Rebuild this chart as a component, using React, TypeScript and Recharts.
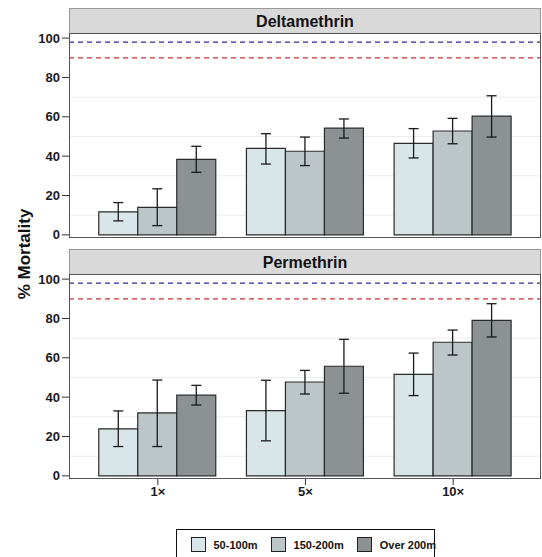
import { BarChart, Bar, XAxis, YAxis, ErrorBar, ReferenceLine, CartesianGrid } from 'recharts';

const categories = ['1×', '5×', '10×'];
const seriesNames = ['50-100m', '150-200m', 'Over 200m'];
const seriesColors = ['#d8e5e9', '#bcc5c8', '#8c9194'];

// Deltamethrin
const deltaNear = [11.7, 44.0, 46.5];
const deltaNearLow = [7.1, 36.0, 39.1];
const deltaNearHigh = [16.4, 51.4, 54.0];
const deltaMid = [14.0, 42.5, 52.8];
const deltaMidLow = [4.7, 35.2, 46.3];
const deltaMidHigh = [23.4, 49.7, 59.2];
const deltaFar = [38.4, 54.2, 60.3];
const deltaFarLow = [31.8, 49.2, 49.7];
const deltaFarHigh = [45.0, 58.9, 70.7];

// Permethrin
const permNear = [23.9, 33.2, 51.6];
const permNearLow = [14.9, 17.8, 40.8];
const permNearHigh = [33.0, 48.6, 62.4];
const permMid = [32.0, 47.7, 67.9];
const permMidLow = [14.9, 41.6, 61.4];
const permMidHigh = [48.7, 53.6, 74.1];
const permFar = [41.0, 55.7, 79.0];
const permFarLow = [36.0, 42.0, 70.6];
const permFarHigh = [46.0, 69.4, 87.5];

const yTicks = [0, 20, 40, 60, 80, 100];
const minorGrid = [10, 30, 50, 70];
const thresholdHigh = 98;
const thresholdLow = 90;

const FONT = '"Liberation Sans", Arial, sans-serif';

function buildRows(vals: number[][], lows: number[][], highs: number[][]) {
  return categories.map((c, i) => {
    const row: any = { cat: c };
    vals.forEach((s, k) => {
      row['v' + k] = s[i];
      row['e' + k] = [s[i] - lows[k][i], highs[k][i] - s[i]];
    });
    return row;
  });
}

const deltaRows = buildRows(
  [deltaNear, deltaMid, deltaFar],
  [deltaNearLow, deltaMidLow, deltaFarLow],
  [deltaNearHigh, deltaMidHigh, deltaFarHigh]
);
const permRows = buildRows(
  [permNear, permMid, permFar],
  [permNearLow, permMidLow, permFarLow],
  [permNearHigh, permMidHigh, permFarHigh]
);

const tickStyle = { fill: '#1a1a1a', fontSize: 13, fontWeight: 700, fontFamily: FONT };

function Panel({ title, rows, top, showX }: any) {
  const plotH = 205;
  const padTop = 10;
  return (
    <>
      <div
        style={{
          position: 'absolute',
          left: 69,
          top: top - 25,
          width: 472,
          height: 25,
          boxSizing: 'border-box',
          background: '#d9d9d9',
          border: '1px solid #999',
          borderBottom: 'none',
          textAlign: 'center',
          lineHeight: '25px',
          fontFamily: FONT,
          fontWeight: 700,
          fontSize: 16,
          color: '#111',
        }}
      >
        {title}
      </div>
      <div style={{ position: 'absolute', left: 0, top: top - padTop }}>
        <BarChart
          width={542}
          height={padTop + plotH + (showX ? 30 : 10)}
          data={rows}
          margin={{ top: padTop, right: 1, bottom: showX ? 0 : 10, left: 0 }}
          barCategoryGap="10%"
          barGap={0}
        >
          <CartesianGrid
            vertical={false}
            horizontalValues={minorGrid}
            stroke="#ececec"
            strokeWidth={1}
          />
          <XAxis
            dataKey="cat"
            hide={!showX}
            height={30}
            axisLine={false}
            tickLine={{ stroke: '#333' }}
            tickSize={6}
            tick={tickStyle}
            padding={{ left: 15, right: 14 }}
          />
          <YAxis
            width={69}
            type="number"
            domain={[-1.6, 102.6]}
            allowDataOverflow
            ticks={yTicks}
            interval={0}
            axisLine={false}
            tickLine={{ stroke: '#333' }}
            tickSize={7}
            tick={tickStyle}
          />
          <ReferenceLine y={thresholdHigh} stroke="#2a2a9c" strokeDasharray="5 4" strokeWidth={1.3} />
          <ReferenceLine y={thresholdLow} stroke="#cc3030" strokeDasharray="5 4" strokeWidth={1.3} />
          {seriesNames.map((n, k) => (
            <Bar
              key={n}
              dataKey={'v' + k}
              name={n}
              fill={seriesColors[k]}
              stroke="#2a2a2a"
              strokeWidth={1.2}
              isAnimationActive={false}
            >
              <ErrorBar dataKey={'e' + k} width={5} stroke="#1a1a1a" strokeWidth={1.3} />
            </Bar>
          ))}
        </BarChart>
      </div>
      <div
        style={{
          position: 'absolute',
          left: 69,
          top: top,
          width: 472,
          height: plotH,
          boxSizing: 'border-box',
          border: '1px solid #555',
          pointerEvents: 'none',
        }}
      />
    </>
  );
}

export default function App() {
  return (
    <div
      style={{
        position: 'absolute',
        left: 0,
        top: 0,
        width: 542,
        height: 557,
        background: '#fff',
        overflow: 'hidden',
      }}
    >
      <Panel title="Deltamethrin" rows={deltaRows} top={33} showX={false} />
      <Panel title="Permethrin" rows={permRows} top={274} showX={true} />
      <div
        style={{
          position: 'absolute',
          left: 25,
          top: 254,
          transform: 'translate(-50%, -50%) rotate(-90deg)',
          whiteSpace: 'nowrap',
          fontFamily: FONT,
          fontWeight: 700,
          fontSize: 17,
          color: '#111',
        }}
      >
        % Mortality
      </div>
      <div
        style={{
          position: 'absolute',
          left: 176,
          top: 529,
          width: 259,
          height: 32,
          boxSizing: 'border-box',
          border: '1.5px solid #111',
          display: 'flex',
          alignItems: 'flex-start',
          paddingTop: 7,
          paddingLeft: 13.5,
          fontFamily: FONT,
          fontWeight: 700,
          fontSize: 11,
          color: '#111',
          whiteSpace: 'nowrap',
        }}
      >
        {seriesNames.map((n, k) => (
          <div
            key={n}
            style={{ display: 'flex', alignItems: 'center', flexShrink: 0, marginRight: k < 2 ? 13 : 0 }}
          >
            <span
              style={{
                display: 'inline-block',
                width: 15,
                height: 15,
                flexShrink: 0,
                boxSizing: 'border-box',
                background: seriesColors[k],
                border: '1px solid #222',
                marginRight: 8,
              }}
            />
            <span>{n}</span>
          </div>
        ))}
      </div>
    </div>
  );
}
